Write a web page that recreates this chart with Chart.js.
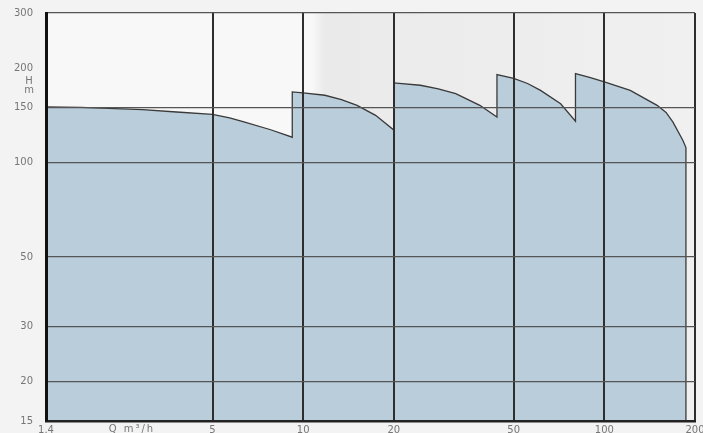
<!DOCTYPE html>
<html>
<head>
<meta charset="utf-8">
<script src="https://cdn.jsdelivr.net/npm/chart.js@4.4.1/dist/chart.umd.min.js"></script>
<style>
  html, body { margin: 0; padding: 0; background: #f3f3f3; }
  #wrap { width: 703px; height: 433px; }
</style>
</head>
<body>
<div id="wrap"><canvas id="pumpChart" width="703" height="433"></canvas></div>
<script>
// Q (m³/h) and H (m), one point per reading, jumps repeated
const flowQ = [
  1.4, 1.83, 2.93, 3.8, 5, 5.7, 6.4, 7.8, 9.2,
  9.2, 10, 11.8, 13.4, 15.1, 17.4, 20,
  20, 24.5, 28.1, 32.1, 38.6, 44,
  44, 50, 55.6, 61.4, 71.6, 80.2,
  80.2, 89.9, 100, 121.9, 149.7, 160.3, 169, 182.4, 186.6, 186.6,
];
const headH = [
  150.6, 150, 147.5, 145, 142.5, 138.9, 134.6, 127.3, 120.5,
  168, 166.8, 164, 158.8, 152.3, 141.5, 127,
  179.5, 176.5, 172, 166, 152.3, 139.7,
  191, 185.5, 178.8, 170, 154, 135.6,
  192.4, 186.8, 180.8, 170, 152.3, 144.6, 134.6, 117.6, 111.7, 15,
];
const xTicks = [1.4, 5, 10, 20, 50, 100, 200];
const yTicks = [15, 20, 30, 50, 100, 150, 200, 300];

const tickFont = { family: "DejaVu Sans", size: 10 };
const tickColor = "#767676";

const backdrop = {
  id: "backdrop",
  beforeDraw(chart) {
    const { ctx, chartArea: a } = chart;
    ctx.save();
    ctx.fillStyle = "#f3f3f3";
    ctx.fillRect(0, 0, chart.width, chart.height);
    const g = ctx.createLinearGradient(a.left, 0, a.right, 0);
    g.addColorStop(0, "#f8f8f8");
    g.addColorStop(0.41, "#f8f8f8");
    g.addColorStop(0.43, "#eaeaea");
    g.addColorStop(0.6, "#ececec");
    g.addColorStop(1, "#f0f0f0");
    ctx.fillStyle = g;
    ctx.fillRect(a.left, a.top, a.right - a.left, a.bottom - a.top);
    ctx.restore();
  },
};

const axisNames = {
  id: "axisNames",
  afterDraw(chart) {
    const { ctx } = chart;
    const x = chart.scales.x;
    ctx.save();
    ctx.fillStyle = tickColor;
    ctx.font = "10px 'DejaVu Sans'";
    ctx.textAlign = "center";
    ctx.textBaseline = "top";
    ctx.letterSpacing = "2px";
    ctx.fillText("Q m³/h", x.getPixelForValue(2.7), 424);
    ctx.letterSpacing = "0px";
    ctx.fillText("H", 29, 76);
    ctx.fillText("m", 29, 85);
    ctx.restore();
  },
};

const points = flowQ.map((q, i) => ({ x: q, y: headH[i] }));

new Chart(document.getElementById("pumpChart"), {
  type: "line",
  data: {
    datasets: [
      {
        data: points,
        borderColor: "#3a3a3a",
        borderWidth: 1.3,
        backgroundColor: "#b9cdda",
        fill: "start",
        tension: 0,
        pointRadius: 0,
      },
    ],
  },
  options: {
    responsive: false,
    animation: false,
    layout: { padding: { top: 13, right: 8, left: 0, bottom: 0 } },
    plugins: { legend: { display: false }, tooltip: { enabled: false } },
    scales: {
      x: {
        type: "logarithmic",
        min: 1.4,
        max: 200,
        afterBuildTicks: (s) => {
          s.ticks = xTicks.map((v) => ({ value: v }));
        },
        afterFit: (s) => {
          s.height = 12;
          s.paddingLeft = 0;
          s.paddingRight = 0;
        },
        ticks: {
          autoSkip: false,
          maxRotation: 0,
          padding: 3,
          color: tickColor,
          font: tickFont,
          callback: (v) => String(v),
        },
        grid: {
          z: 1,
          drawTicks: false,
          color: (c) => (c.tick && c.tick.value === 1.4 ? "rgba(0,0,0,0)" : "#2e2e2e"),
          lineWidth: 2,
        },
        border: { z: 1, display: true, color: "#222", width: 2.5 },
      },
      y: {
        type: "logarithmic",
        min: 15,
        max: 300,
        afterBuildTicks: (s) => {
          s.ticks = yTicks.map((v) => ({ value: v }));
        },
        afterFit: (s) => {
          s.width = 46;
          s.paddingTop = 0;
          s.paddingBottom = 0;
        },
        ticks: {
          autoSkip: false,
          padding: 13,
          color: tickColor,
          font: tickFont,
          callback: (v) => String(v),
        },
        grid: {
          z: 1,
          drawTicks: false,
          color: (c) => {
            const v = c.tick && c.tick.value;
            return v === 15 || v === 200 ? "rgba(0,0,0,0)" : "#555";
          },
          lineWidth: 1.2,
        },
        border: { z: 1, display: true, color: "#111", width: 3 },
      },
    },
  },
  plugins: [backdrop, axisNames],
});
</script>
</body>
</html>
